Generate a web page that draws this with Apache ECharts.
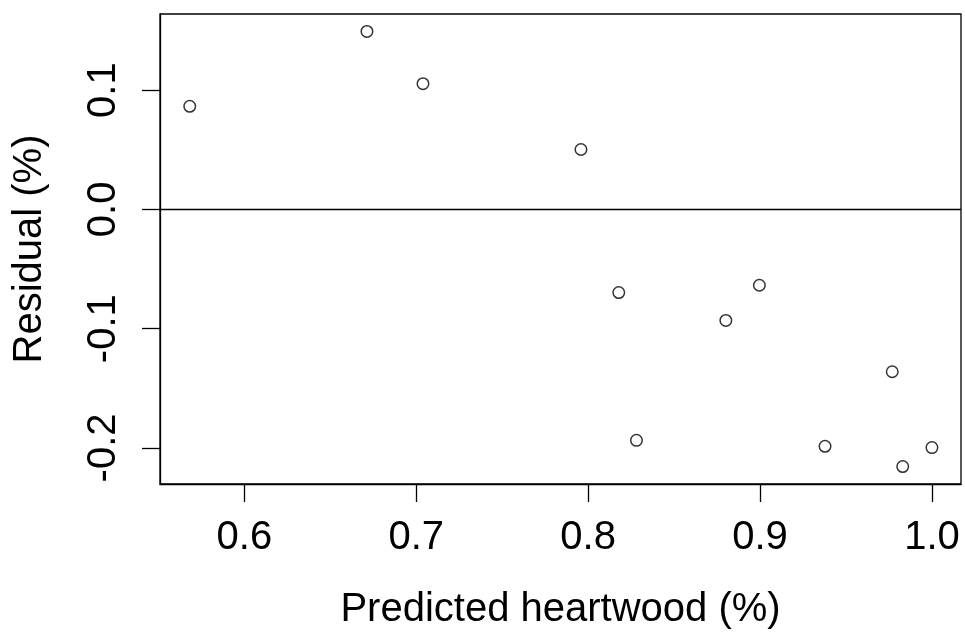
<!DOCTYPE html>
<html>
<head>
<meta charset="utf-8">
<script src="https://cdn.jsdelivr.net/npm/echarts@6/dist/echarts.min.js"></script>
<style>
    html, body { margin: 0; padding: 0; background: #fff; }
    #chart { width: 965px; height: 635px; }
</style>
</head>
<body>
<div id="chart"></div>
<script>
// predicted heartwood vs residual
var predicted = [0.5682, 0.6713, 0.7039, 0.7958, 0.8178, 0.8281, 0.8801, 0.8996, 0.9378, 0.9769, 0.9830, 1.0000];
var residual = [0.0864, 0.1492, 0.1054, 0.0502, -0.0697, -0.1936, -0.0931, -0.0636, -0.1986, -0.1361, -0.2156, -0.1997];
var xTicks = [0.6, 0.7, 0.8, 0.9, 1.0];
var yTicks = [-0.2, -0.1, 0.0, 0.1];

var points = predicted.map(function (x, i) {
    return [x, residual[i]];
});

var fontFamily = "Liberation Sans, Arial, sans-serif";
var fontSize = 40;

var option = {
    backgroundColor: "#fff",
    animation: false,
    grid: {
        left: 160,
        top: 14,
        width: 801,
        height: 471,
        show: true,
        borderColor: "#000",
        borderWidth: 1.3,
        backgroundColor: "transparent"
    },
    xAxis: {
        type: "value",
        min: 0.5509,
        max: 1.0169,
        name: "Predicted heartwood (%)",
        nameLocation: "middle",
        nameGap: 106,
        nameTextStyle: { fontFamily: fontFamily, fontSize: fontSize, color: "#000" },
        splitLine: { show: false },
        axisLine: { show: true, onZero: false, lineStyle: { color: "#000", width: 1.3 } },
        axisTick: {
            show: true,
            length: 18,
            lineStyle: { color: "#000", width: 1.3 },
            customValues: xTicks
        },
        axisLabel: {
            fontFamily: fontFamily,
            fontSize: fontSize,
            color: "#000",
            margin: 34,
            customValues: xTicks,
            formatter: function (v) { return v.toFixed(1); }
        }
    },
    yAxis: {
        type: "value",
        min: -0.2302,
        max: 0.1638,
        name: "Residual (%)",
        nameLocation: "middle",
        nameGap: 110,
        nameTextStyle: { fontFamily: fontFamily, fontSize: fontSize, color: "#000" },
        splitLine: { show: false },
        axisLine: { show: true, onZero: false, lineStyle: { color: "#000", width: 1.3 } },
        axisTick: {
            show: true,
            length: 18,
            lineStyle: { color: "#000", width: 1.3 },
            customValues: yTicks
        },
        axisLabel: {
            fontFamily: fontFamily,
            fontSize: fontSize,
            color: "#000",
            rotate: 90,
            margin: 36,
            customValues: yTicks,
            formatter: function (v) { return v.toFixed(1); }
        }
    },
    series: [
        {
            type: "scatter",
            data: points,
            symbol: "circle",
            symbolSize: 11.5,
            itemStyle: {
                color: "#fff",
                borderColor: "#000",
                borderWidth: 1.5
            },
            markLine: {
                silent: true,
                symbol: "none",
                label: { show: false },
                lineStyle: { color: "#000", width: 1.3, type: "solid" },
                data: [{ yAxis: 0 }]
            }
        }
    ]
};

var chart = echarts.init(document.getElementById("chart"));
chart.setOption(option);
</script>
</body>
</html>
